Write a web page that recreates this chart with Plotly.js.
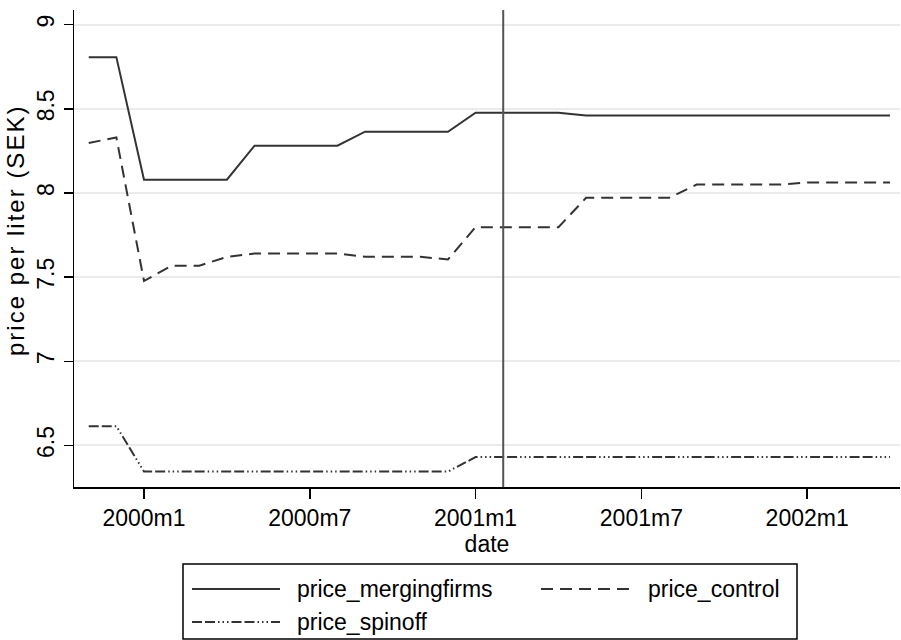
<!DOCTYPE html>
<html><head><meta charset="utf-8">
<script src="https://cdn.plot.ly/plotly-3.0.1.min.js"></script>
<style>
html,body{margin:0;padding:0;background:#fff}
#chart{width:901px;height:640px}
g.annotation[data-index="0"] text{letter-spacing:2px}
</style>
</head><body><div id="chart"></div>
<script>
const dates = ["1999m11","1999m12",
  "2000m1","2000m2","2000m3","2000m4","2000m5","2000m6","2000m7","2000m8","2000m9","2000m10","2000m11","2000m12",
  "2001m1","2001m2","2001m3","2001m4","2001m5","2001m6","2001m7","2001m8","2001m9","2001m10","2001m11","2001m12",
  "2002m1","2002m2","2002m3","2002m4"];
const priceMergingfirms = [8.807,8.807,
  8.079,8.079,8.079,8.079,8.281,8.281,8.281,8.281,8.364,8.364,8.364,8.364,
  8.477,8.477,8.477,8.477,8.461,8.461,8.461,8.461,8.461,8.461,8.461,8.461,
  8.461,8.461,8.461,8.461];
const priceControl = [8.297,8.330,
  7.477,7.568,7.568,7.620,7.640,7.640,7.640,7.640,7.621,7.621,7.621,7.605,
  7.797,7.797,7.797,7.797,7.971,7.971,7.971,7.971,8.050,8.050,8.050,8.050,
  8.062,8.062,8.062,8.062];
const priceSpinoff = [6.615,6.615,
  6.345,6.345,6.345,6.345,6.345,6.345,6.345,6.345,6.345,6.345,6.345,6.345,
  6.431,6.431,6.431,6.431,6.431,6.431,6.431,6.431,6.431,6.431,6.431,6.431,
  6.431,6.431,6.431,6.431];
const seriesNames = ["price_mergingfirms","price_control","price_spinoff"];
const xTickLabels = ["2000m1","2000m7","2001m1","2001m7","2002m1"];
const yTickVals = [6.5,7,7.5,8,8.5,9];
const eventDate = "2001m2";
const xTitle = "date";
const yTitle = "price per liter (SEK)";

function tm(s){ const p = s.split('m').map(Number); return (p[0]-1960)*12 + (p[1]-1); }

const W = 901, H = 640;
const M = {l:74, r:1, t:10, b:153};
const plotW = W - M.l - M.r, plotH = H - M.t - M.b;
const px2x = x => (x - M.l) / plotW;
const px2y = y => (H - M.b - y) / plotH;

const lineColor = '#333333';
const dashControl = '12px,7px';
const dashSpinoff = '10px,3px,10px,3px,1.5px,3px,1.5px,3px,1.5px,3px';
const styles = [
  {color: lineColor, width: 2, dash: 'solid'},
  {color: lineColor, width: 2, dash: dashControl},
  {color: lineColor, width: 2, dash: dashSpinoff}
];
const values = [priceMergingfirms, priceControl, priceSpinoff];
const xs = dates.map(tm);

const traces = values.map((v, i) => ({
  type: 'scatter', mode: 'lines', x: xs, y: v, name: seriesNames[i],
  line: styles[i], hoverinfo: 'skip'
}));

const fontFam = '"Liberation Sans", Arial, sans-serif';
const fs = 23;

// legend (drawn manually to reproduce the long line samples)
const legendItems = [
  {sx0: 192, sx1: 280, tx: 295, y: 589},
  {sx0: 541, sx1: 631, tx: 646, y: 589},
  {sx0: 192, sx1: 280, tx: 295, y: 622}
];
const shapes = [
  {type:'line', xref:'x', yref:'paper', x0: tm(eventDate), x1: tm(eventDate), y0: 0, y1: 1,
   line:{color:'#555555', width:2}},
  {type:'rect', xref:'paper', yref:'paper', x0: px2x(183), x1: px2x(797), y0: px2y(564), y1: px2y(639),
   line:{color:'#000', width:1.5}, fillcolor:'rgba(0,0,0,0)'}
];
const annotations = [
  {xref:'paper', yref:'paper', x: px2x(15), y: px2y(231), xanchor:'center', yanchor:'middle',
   textangle:-90, text: yTitle, showarrow:false, font:{family: fontFam, size: 24, color:'#000'}}
];
legendItems.forEach((it, i) => {
  shapes.push({type:'line', xref:'paper', yref:'paper', x0: px2x(it.sx0), x1: px2x(it.sx1),
    y0: px2y(it.y), y1: px2y(it.y), line: styles[i]});
  annotations.push({xref:'paper', yref:'paper', x: px2x(it.tx), y: px2y(it.y), xanchor:'left', yanchor:'middle',
    text: seriesNames[i], showarrow:false, font:{family: fontFam, size: fs, color:'#000'}});
});

const layout = {
  width: W, height: H, margin: M,
  paper_bgcolor:'#fff', plot_bgcolor:'#fff',
  font:{family: fontFam, size: fs, color:'#000'},
  showlegend: false,
  xaxis:{
    range:[477.467, 507.36], tickmode:'array', tickvals: xTickLabels.map(tm), ticktext: xTickLabels,
    ticks:'outside', ticklen:10, tickwidth:1.5, tickcolor:'#000',
    showline:true, linecolor:'#000', linewidth:1.5, showgrid:false, zeroline:false,
    tickfont:{size:fs}, title:{text: xTitle, font:{size:fs}, standoff: 0}
  },
  yaxis:{
    range:[6.2534, 9.087], tickmode:'array', tickvals: yTickVals, ticktext: yTickVals.map(String),
    ticks:'outside', ticklen:9, tickwidth:1.5, tickcolor:'#000', tickangle:-90,
    showline:true, linecolor:'#000', linewidth:1.5, showgrid:true, gridcolor:'#ebebeb', gridwidth:2,
    zeroline:false, tickfont:{size:fs}
  },
  shapes: shapes, annotations: annotations
};

Plotly.newPlot('chart', traces, layout, {staticPlot:true, displayModeBar:false});
</script>
</body></html>
